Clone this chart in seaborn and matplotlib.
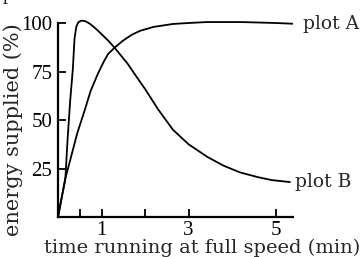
import pandas as pd
import matplotlib
matplotlib.use("Agg")
import matplotlib.pyplot as plt
import seaborn as sns

# values (time in min, energy in %)
time_a = [0, 0.17, 0.30, 0.44, 0.62, 0.75, 0.92, 1.05, 1.15, 1.31, 1.50, 1.70, 1.89, 2.20, 2.64, 3.00,
          3.43, 4.20, 5.00, 5.52]
energy_a = [0, 20, 31, 43, 55.5, 65, 74, 80, 84, 87.5, 91, 94, 96, 98, 99.5, 100, 100.5, 100.5, 100, 99.5]

time_b = [0, 0.17, 0.22, 0.28, 0.34, 0.38, 0.42, 0.47, 0.54, 0.62, 0.72, 0.82, 0.92, 1.15, 1.31, 1.60,
          1.89, 2.00, 2.30, 2.64, 3.00, 3.43, 3.80, 4.18, 4.60, 4.92, 5.33]
energy_b = [0, 20, 40, 60, 76, 92, 98, 100.5, 101.2, 101, 99.8, 98, 96, 91, 87, 79, 69.5, 66, 55.5, 45,
            37.5, 31, 26.5, 23, 20.5, 19, 18]

x_ticks = [0.5, 1, 2, 3, 5]
x_tick_labels = ["", "1", "", "3", "5"]
y_ticks = [25, 50, 75, 100]

df_a = pd.DataFrame({"time": time_a, "energy": energy_a})
df_b = pd.DataFrame({"time": time_b, "energy": energy_b})

sns.set_style("ticks")
plt.rcParams["font.family"] = ["Liberation Serif", "DejaVu Serif"]
label_font = ["DejaVu Serif"]

fig = plt.figure(figsize=(3.62, 2.57), dpi=100)
# 0 at pixel 217, 100 at pixel 23 -> 1.94 px per %, axes top at 103 %
ax = fig.add_axes([58 / 362, 40 / 257, (293 - 58) / 362, (103 * 1.94) / 257])

sns.lineplot(data=df_a, x="time", y="energy", ax=ax, color="black", linewidth=1.3, sort=False)
sns.lineplot(data=df_b, x="time", y="energy", ax=ax, color="black", linewidth=1.3, sort=False)

ax.set_xlim(0, 5.4)
ax.set_ylim(0, 103)
ax.set_xticks(x_ticks)
ax.set_xticklabels(x_tick_labels)
ax.set_yticks(y_ticks)
ax.set_yticklabels([str(v) for v in y_ticks])
ax.tick_params(direction="in", length=6, width=1.3, labelsize=15, colors="black", pad=4)
ax.tick_params(axis="x", pad=3)

for side in ["top", "right"]:
    ax.spines[side].set_visible(False)
for side in ["left", "bottom"]:
    ax.spines[side].set_linewidth(1.6)
    ax.spines[side].set_color("black")
ax.spines["left"].set_bounds(0, 100)

ax.set_xlabel("")
ax.set_ylabel("")
fig.text(202 / 362, 4 / 257, "time running at full speed (min)", fontsize=14,
         family=label_font, ha="center", va="baseline")
fig.text(13 / 362, (257 - 130) / 257, "energy supplied (%)", fontsize=15,
         family=label_font, rotation=90, ha="center", va="center")

ax.text(5.64, energy_a[-1], "plot A", fontsize=13.5, family=label_font, va="center", ha="left",
        clip_on=False)
ax.text(5.45, energy_b[-1], "plot B", fontsize=13.5, family=label_font, va="center", ha="left",
        clip_on=False)

# cut-off letter at the very top of the original
fig.text(0.008, 1.003, "p", fontsize=15, va="baseline", ha="left")

fig.savefig("out.png", dpi=100)
